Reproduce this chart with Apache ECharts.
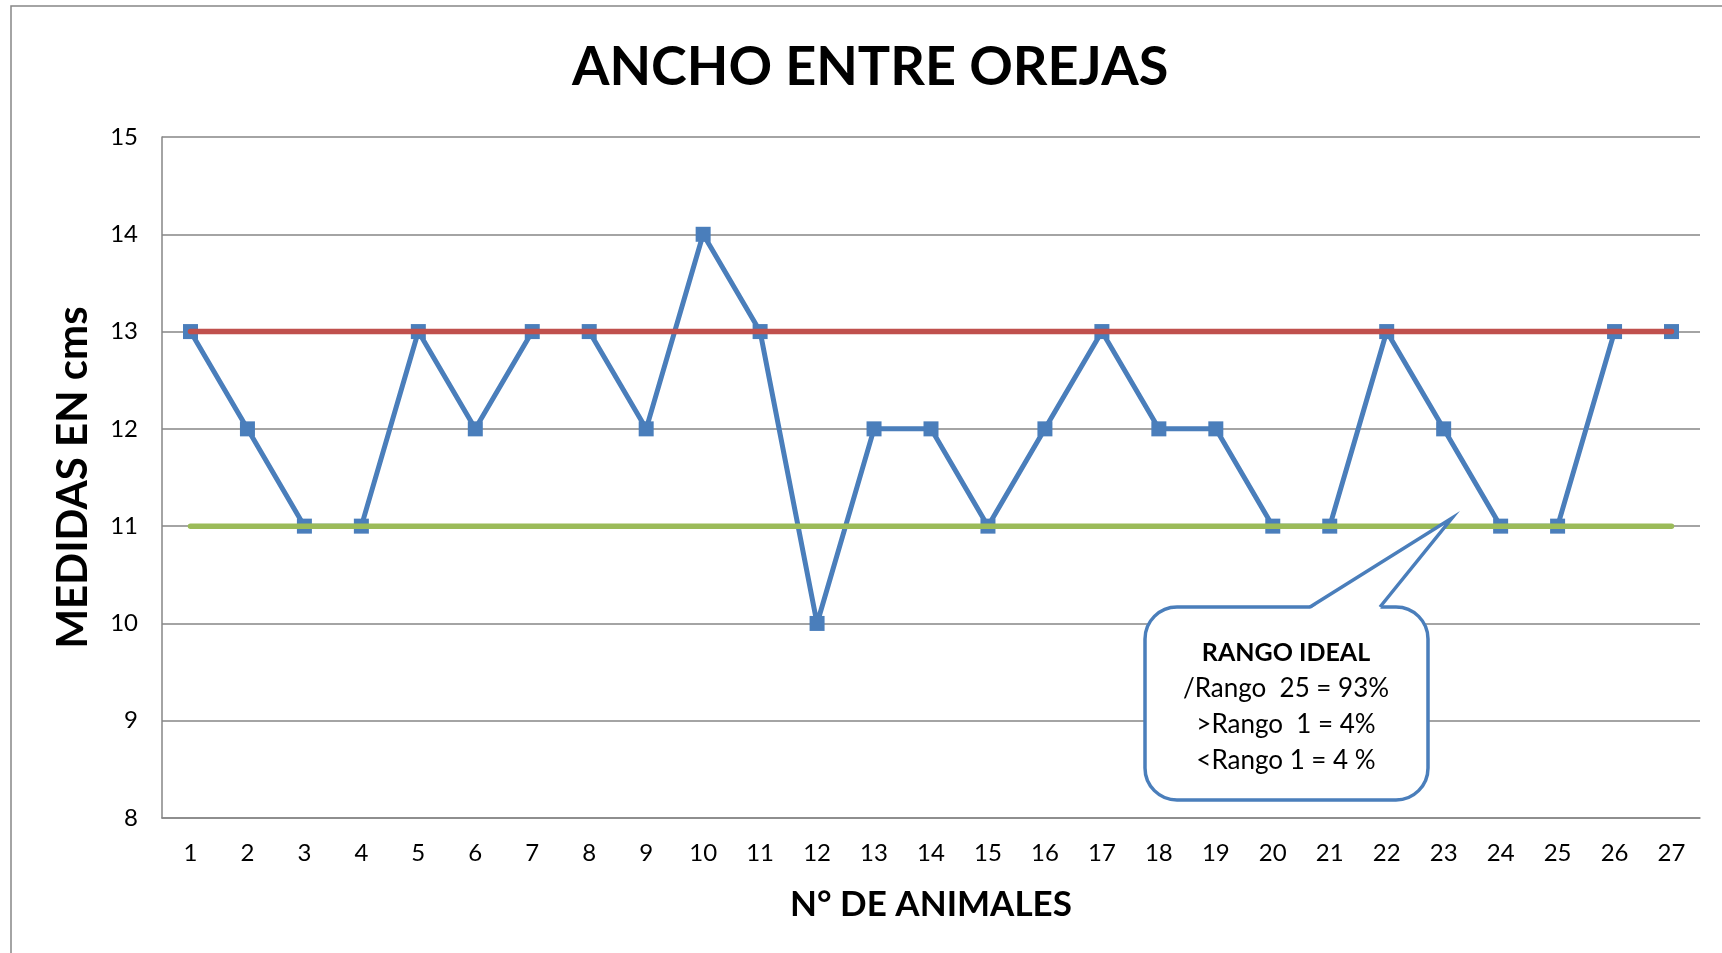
<!DOCTYPE html>
<html>
<head>
<meta charset="utf-8">
<script src="https://cdn.jsdelivr.net/npm/echarts@6/dist/echarts.min.js"></script>
<style>
  html, body { margin: 0; padding: 0; background: #fff; }
  #chart { width: 1722px; height: 953px; }
</style>
</head>
<body>
<div id="chart"></div>
<script>
// datos
const animales = ['1','2','3','4','5','6','7','8','9','10','11','12','13','14','15','16','17','18','19','20','21','22','23','24','25','26','27']
const medidas = [13, 12, 11, 11, 13, 12, 13, 13, 12, 14, 13, 10, 12, 12, 11, 12, 13, 12, 12, 11, 11, 13, 12, 11, 11, 13, 13]
const limiteSuperior = 13
const limiteInferior = 11
const notaLineas = ['/Rango  25 = 93%', '>Rango  1 = 4%', '<Rango 1 = 4 %']

const FONT = 'Lato, "Open Sans", sans-serif'
const AZUL = '#4A7EBB'
const chart = echarts.init(document.getElementById('chart'))

// globo de la nota
const globo = { x: 1145, y: 607, w: 283, h: 193, r: 32 }
const punta = [1452, 518]
const base = [1310, 1380]

chart.setOption({
  backgroundColor: '#fff',
  animation: false,
  title: {
    text: 'ANCHO ENTRE OREJAS',
    left: 567,
    top: 36,
    textStyle: { fontFamily: FONT, fontWeight: 'bold', fontSize: 54, color: '#000' }
  },
  grid: { left: 162, right: 22, top: 137, bottom: 135 },
  xAxis: {
    type: 'category',
    data: animales,
    boundaryGap: true,
    name: 'N° DE ANIMALES',
    nameLocation: 'middle',
    nameGap: 69,
    nameTextStyle: { fontFamily: FONT, fontWeight: 'bold', fontSize: 35, color: '#000' },
    axisLine: { lineStyle: { color: '#868686', width: 1.5 } },
    axisTick: { show: false },
    axisLabel: { fontFamily: FONT, fontSize: 24, color: '#000', margin: 23, interval: 0 }
  },
  yAxis: {
    type: 'value',
    min: 8,
    max: 15,
    interval: 1,
    name: 'MEDIDAS EN cms',
    nameLocation: 'middle',
    nameGap: 68,
    nameTextStyle: { fontFamily: FONT, fontWeight: 'bold', fontSize: 42, color: '#000' },
    axisLine: { show: true, lineStyle: { color: '#868686', width: 1.5 } },
    axisTick: { show: false },
    splitLine: { lineStyle: { color: '#868686', width: 1.5 } },
    axisLabel: { fontFamily: FONT, fontSize: 24, color: '#000', margin: 24 }
  },
  series: [
    {
      name: 'Medida',
      type: 'line',
      data: medidas,
      symbol: 'rect',
      symbolSize: 15,
      itemStyle: { color: AZUL },
      lineStyle: { color: AZUL, width: 5 },
      z: 2
    },
    {
      name: 'Limite superior',
      type: 'line',
      data: animales.map(() => limiteSuperior),
      symbol: 'none',
      lineStyle: { color: '#C0504D', width: 5.5, cap: 'round' },
      z: 3
    },
    {
      name: 'Limite inferior',
      type: 'line',
      data: animales.map(() => limiteInferior),
      symbol: 'none',
      lineStyle: { color: '#9BBB59', width: 5.5, cap: 'round' },
      z: 3
    }
  ],
  graphic: [
    {
      type: 'rect',
      shape: { x: 11, y: 6, width: 1800, height: 1000 },
      style: { fill: 'none', stroke: '#868686', lineWidth: 1.5 },
      silent: true,
      z: -1
    },
    {
      type: 'rect',
      shape: { x: globo.x, y: globo.y, width: globo.w, height: globo.h, r: globo.r },
      style: { fill: '#fff', stroke: AZUL, lineWidth: 3.5 },
      z: 10
    },
    {
      type: 'polygon',
      shape: { points: [[base[0], globo.y + 2], punta, [base[1], globo.y + 2]] },
      style: { fill: '#fff', stroke: null },
      z: 11
    },
    {
      type: 'polyline',
      shape: { points: [[base[0], globo.y], punta, [base[1], globo.y]] },
      style: { fill: null, stroke: AZUL, lineWidth: 3.5, lineJoin: 'miter' },
      z: 12
    },
    {
      type: 'text',
      x: 1286,
      y: 653,
      style: {
        text: 'RANGO IDEAL',
        font: 'bold 25px ' + FONT,
        fill: '#000',
        align: 'center',
        verticalAlign: 'middle'
      },
      z: 13
    },
    ...notaLineas.map((t, i) => ({
      type: 'text',
      x: 1286,
      y: 689 + i * 36,
      style: {
        text: t,
        font: '26px ' + FONT,
        fill: '#000',
        align: 'center',
        verticalAlign: 'middle'
      },
      z: 13
    }))
  ]
})
</script>
</body>
</html>
